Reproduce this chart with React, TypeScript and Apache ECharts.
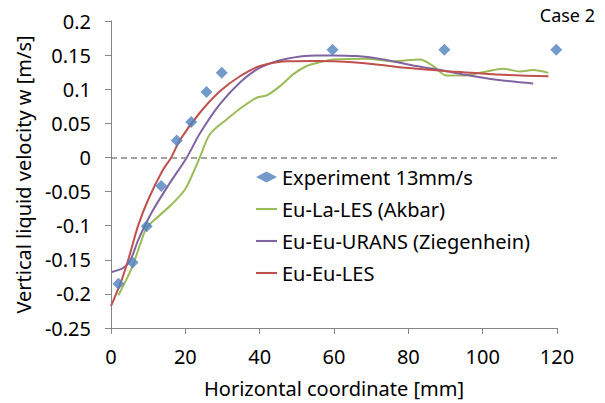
import React, { useEffect, useRef } from "react";
import * as echarts from "echarts";

const expX = [2, 5.8, 9.6, 13.5, 17.7, 21.6, 25.7, 29.8, 59.6, 89.7, 119.8];
const expY = [-0.185, -0.154, -0.101, -0.042, 0.025, 0.052, 0.096, 0.124, 0.158, 0.158, 0.158];

const greenX = [2, 5.6, 8.3, 9.6, 11.8, 16.3, 19.9, 22.1, 23.9, 26.6, 31.1, 35.6, 39.2, 41.9, 45.5, 49, 52.6, 56.2, 59.8, 68.8, 76, 83.1, 86.7, 90.3, 94.8, 99.3, 105.5, 110, 113.6, 117.7];
const greenY = [-0.202, -0.162, -0.12, -0.103, -0.091, -0.069, -0.047, -0.0225, 0, 0.034, 0.0557, 0.075, 0.0875, 0.091, 0.1045, 0.1217, 0.134, 0.1397, 0.1437, 0.1447, 0.141, 0.1437, 0.134, 0.12, 0.12, 0.124, 0.13, 0.126, 0.128, 0.124];

const purpleX = [0.2, 3.3, 5.1, 7.4, 10.9, 15.4, 20.4, 23.9, 29.3, 34.7, 40.1, 47.3, 55.3, 59.8, 66.1, 73.3, 82.2, 90.3, 94.8, 103.8, 113.6];
const purpleY = [-0.168, -0.162, -0.152, -0.12, -0.081, -0.041, 0, 0.035, 0.078, 0.11, 0.1315, 0.1447, 0.1496, 0.1496, 0.1486, 0.1437, 0.134, 0.1265, 0.1217, 0.114, 0.1085];

const redX = [0, 2.9, 4.8, 7.3, 10, 13.8, 16.2, 18.6, 23.9, 29.3, 34.7, 40.1, 47.3, 55.3, 60, 65, 72, 80, 90.3, 94.8, 103.8, 117.7];
const redY = [-0.218, -0.179, -0.147, -0.1, -0.062, -0.02, 0, 0.026, 0.0655, 0.097, 0.119, 0.134, 0.141, 0.1415, 0.141, 0.1395, 0.136, 0.131, 0.1265, 0.125, 0.1217, 0.119];

const names = ["Experiment 13mm/s", "Eu-La-LES (Akbar)", "Eu-Eu-URANS (Ziegenhein)", "Eu-Eu-LES"];
const colors = ["#4F81BD", "#9BBB59", "#8064A2", "#C0504D"];

const zip = (xs: number[], ys: number[]) => xs.map((x, i) => [x, ys[i]]);

const FONT = '"Noto Sans", sans-serif';
const AXIS_COLOR = "#868686";
const BAR_ICON = "path://M0,0H20V2H0Z";

export default function App() {
  const ref = useRef<HTMLDivElement>(null);
  useEffect(() => {
    if (!ref.current) return;
    const chart = echarts.init(ref.current, undefined, { renderer: "svg" });
    chart.setOption({
      animation: false,
      backgroundColor: "#ffffff",
      textStyle: { fontFamily: FONT },
      grid: { left: 111, right: 48, top: 21, bottom: 75, containLabel: false },
      xAxis: {
        type: "value",
        min: 0,
        max: 120,
        interval: 20,
        name: "Horizontal coordinate [mm]",
        nameLocation: "middle",
        nameGap: 50,
        nameTextStyle: { fontSize: 20, color: "#000", fontFamily: FONT },
        axisLine: { onZero: false, lineStyle: { color: AXIS_COLOR, width: 1 } },
        axisTick: { show: true, inside: false, length: 6, lineStyle: { color: AXIS_COLOR } },
        axisLabel: { fontSize: 20, color: "#000", margin: 18, fontFamily: FONT },
        splitLine: { show: false },
      },
      yAxis: {
        type: "value",
        min: -0.25,
        max: 0.2,
        interval: 0.05,
        name: "Vertical liquid velocity w [m/s]",
        nameLocation: "middle",
        nameGap: 76,
        nameTextStyle: { fontSize: 20, color: "#000", fontFamily: FONT },
        axisLine: { show: true, lineStyle: { color: AXIS_COLOR, width: 1 } },
        axisTick: { show: true, inside: false, length: 6, lineStyle: { color: AXIS_COLOR } },
        axisLabel: {
          fontSize: 20,
          color: "#000",
          margin: 20,
          fontFamily: FONT,
          formatter: (v: number) => String(parseFloat(v.toFixed(2))),
        },
        splitLine: { show: false },
      },
      legend: {
        orient: "vertical",
        left: 256,
        top: 167,
        padding: 0,
        itemWidth: 21,
        itemHeight: 11,
        itemGap: 12,
        textStyle: { fontSize: 20, color: "#000", lineHeight: 20, fontFamily: FONT },
        data: [
          { name: names[0], icon: "diamond" },
          { name: names[1], icon: BAR_ICON },
          { name: names[2], icon: BAR_ICON },
          { name: names[3], icon: BAR_ICON },
        ],
      },
      graphic: [
        {
          type: "text",
          right: 10,
          top: 6,
          style: { text: "Case 2", font: `18px ${FONT}`, fill: "#000" },
        },
      ],
      series: [
        {
          name: names[1],
          type: "line",
          data: zip(greenX, greenY),
          symbol: "none",
          smooth: 0.3,
          lineStyle: { color: colors[1], width: 2 },
          itemStyle: { color: colors[1] },
          z: 2,
        },
        {
          name: names[2],
          type: "line",
          data: zip(purpleX, purpleY),
          symbol: "none",
          smooth: 0.3,
          lineStyle: { color: colors[2], width: 2 },
          itemStyle: { color: colors[2] },
          z: 3,
        },
        {
          name: names[3],
          type: "line",
          data: zip(redX, redY),
          symbol: "none",
          smooth: 0.3,
          lineStyle: { color: colors[3], width: 2 },
          itemStyle: { color: colors[3] },
          z: 4,
        },
        {
          name: names[0],
          type: "scatter",
          data: zip(expX, expY),
          symbol: "diamond",
          symbolSize: 12,
          itemStyle: { color: colors[0] },
          z: 5,
          markLine: {
            silent: true,
            symbol: "none",
            label: { show: false },
            lineStyle: { color: AXIS_COLOR, type: [6, 4], width: 1.5 },
            data: [{ yAxis: 0 }],
          },
        },
      ],
    });
    return () => chart.dispose();
  }, []);
  return (
    <div
      ref={ref}
      style={{ position: "fixed", left: 0, top: 0, width: 605, height: 403, background: "#fff" }}
    />
  );
}
